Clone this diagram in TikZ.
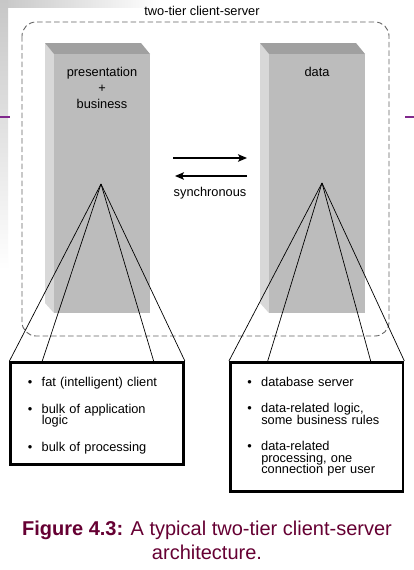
\documentclass[tikz,border=0pt]{standalone}
\usepackage{fontspec}
\setmainfont{Liberation Sans}
\usepackage{tikz}
\definecolor{tierFront}{RGB}{188,188,188}
\definecolor{tierSide}{RGB}{216,216,216}
\definecolor{tierTop}{RGB}{160,160,160}
\definecolor{frameGray}{RGB}{100,100,100}
\definecolor{captionMaroon}{RGB}{102,0,51}
\definecolor{slidePurple}{RGB}{128,40,140}
\usetikzlibrary{arrows.meta, positioning, calc}

\newcommand{\tierbul}[1]{\makebox[14pt][l]{\textbullet}#1}
\newcommand{\tierhang}[1]{\hspace*{14pt}#1}

\tikzset{
    tierlabel/.style={font=\fontsize{12.8}{15.75}\selectfont, align=center, anchor=base, inner sep=0pt},
    infobox/.style={draw, line width=2.6pt, fill=white, inner xsep=17pt, inner ysep=0pt,
        text width=138.8pt, align=left, font={\fontsize{12.8}{11.5}\selectfont\lineskiplimit=-100pt}},
    fanline/.style={line width=0.7pt},
    syncarrow/.style={line width=1.2pt, -{Stealth[length=9pt, width=7.5pt, inset=2pt]}},
    tierframe/.style={draw=frameGray, line width=0.9pt, dash pattern=on 5.5pt off 3pt, rounded corners=14pt},
    slideline/.style={draw=slidePurple, line width=2pt}
}

\begin{document}
\begin{tikzpicture}[x=1pt, y=-1pt]
    \useasboundingbox (0,0) rectangle (414,570);
    \fill[white] (0,0) rectangle (414,570);
    \shade[left color=black!22, right color=white] (0,0) rectangle (160,7);
    \shade[top color=black!22, bottom color=white] (0,0) rectangle (8,270);
    \draw[slideline] (0,117) -- (10,117);
    \draw[slideline] (405,117) -- (414,117);

    \foreach \dx in {0,215} {
        \begin{scope}[xshift=\dx pt]
            \fill[tierSide] (45,43) -- (54,54) -- (54,313) -- (45,303) -- cycle;
            \fill[tierTop] (45,43) -- (141,43) -- (150,54) -- (54,54) -- cycle;
            \fill[tierFront] (54,54) rectangle (150,313);
        \end{scope}
    }

    \draw[tierframe] (22,22) rectangle (389,336);
    \node[tierlabel] (tiertitle) at (202,15.5) {two-tier client-server};

    \node[tierlabel] (client) at (102,108) {presentation\\+\\business};
    \node[tierlabel] (server) at (317,76) {data};
    \coordinate (clientapex) at (101,184);
    \coordinate (serverapex) at (322,183);

    \coordinate (sendfrom) at (173,158);
    \coordinate (sendto) at (247,158);
    \coordinate (replyfrom) at (247,176);
    \coordinate (replyto) at (175,176);
    \draw[syncarrow] (sendfrom) -- (sendto);
    \draw[syncarrow] (replyfrom) -- (replyto);
    \node[tierlabel] (sync) at (210,196) {synchronous};

    \node[infobox, minimum height=102.4pt] (clientbox) at (97.15,413.5) {%
        \tierbul{\rule{0pt}{13.7pt}fat (intelligent) client}\\[15pt]
        \tierbul{bulk of application}\\
        \tierhang{logic}\\[15pt]
        \tierbul{bulk of processing}};
    \node[infobox, minimum height=129pt] (serverbox) at (316.65,426.8) {%
        \tierbul{database server}\\[15pt]
        \tierbul{data-related logic,}\\
        \tierhang{some business rules}\\[15pt]
        \tierbul{data-related}\\
        \tierhang{processing, one}\\
        \tierhang{connection per user}};

    \foreach \f in {0,0.187,0.822,1}
        \draw[fanline] (clientapex) -- ($(clientbox.north west)!\f!(clientbox.north east)$);
    \foreach \f in {0,0.221,0.808,1}
        \draw[fanline] (serverapex) -- ($(serverbox.north west)!\f!(serverbox.north east)$);

    \node[
        align=center,
        anchor=base,
        inner sep=0pt,
        text=captionMaroon,
        font=\fontsize{20}{24}\selectfont
    ] (caption) at (207,559) {\textbf{Figure 4.3:} A typical two-tier client-server\\architecture.};
\end{tikzpicture}
\end{document}
